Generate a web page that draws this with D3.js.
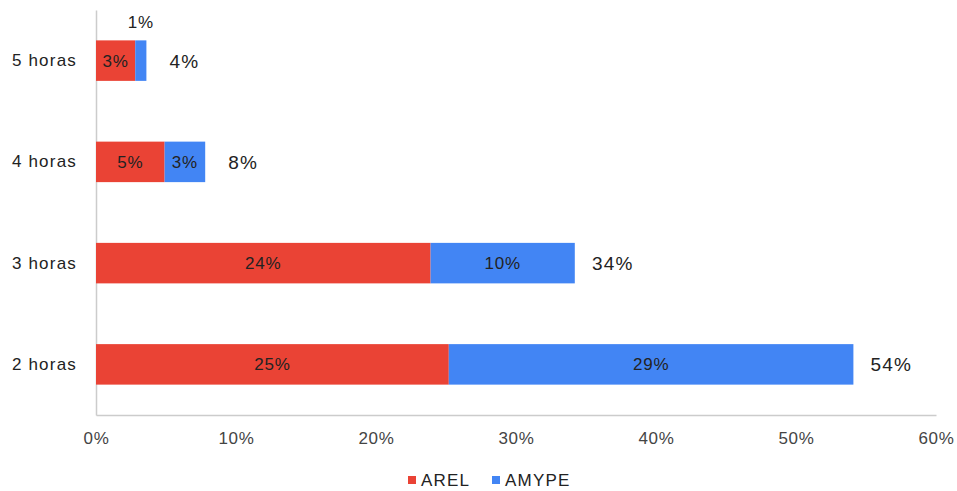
<!DOCTYPE html>
<html><head><meta charset="utf-8">
<script src="https://cdn.jsdelivr.net/npm/d3@7"></script>
<style>body{margin:0;background:#fff;font-family:"Liberation Sans",Arial,sans-serif;}</style>
</head><body><svg id="c" width="957" height="491"></svg>
<script>
const categories = ["5 horas", "4 horas", "3 horas", "2 horas"];
const arel = [2.8, 4.9, 23.9, 25.2];
const amype = [0.8, 2.9, 10.3, 28.9];
const arelLabels = ["3%", "5%", "24%", "25%"];
const amypeLabels = ["1%", "3%", "10%", "29%"];
const totalLabels = ["4%", "8%", "34%", "54%"];
const xTicks = [0, 10, 20, 30, 40, 50, 60];
const seriesNames = ["AREL", "AMYPE"];
const colors = ["#EA4335", "#4285F4"];

const svg = d3.select("#c");
const m = {l: 96, r: 21, t: 10, b: 76};
const W = 957, H = 491;
const ff = "Liberation Sans, Arial, sans-serif";
const x = d3.scaleLinear().domain([0, 60]).range([m.l, W - m.r]);
const y = d3.scaleBand().domain(categories).range([m.t, H - m.b]).paddingInner(0.6).paddingOuter(0.3);

// axes
const xAxis = svg.append("g").attr("transform", `translate(0,${H - m.b})`)
  .call(d3.axisBottom(x).tickValues(xTicks).tickFormat(d => d + "%").tickSize(0).tickPadding(17));
xAxis.select(".domain").attr("stroke", "#ccc").attr("stroke-width", 1.5);
xAxis.selectAll("text").attr("fill", "#444").attr("font-size", 17).attr("letter-spacing", 0.7).attr("font-family", ff);

const yAxis = svg.append("g").attr("transform", `translate(${m.l},0)`)
  .call(d3.axisLeft(y).tickSize(0).tickPadding(19));
yAxis.select(".domain").attr("stroke", "#ccc").attr("stroke-width", 1.5);
yAxis.selectAll("text").attr("fill", "#222").attr("font-size", 17).attr("letter-spacing", 1.2).attr("font-family", ff);

const rows = categories.map((c, i) => ({c, a: arel[i], b: amype[i], la: arelLabels[i], lb: amypeLabels[i], lt: totalLabels[i]}));

const g = svg.append("g");
g.selectAll(".ra").data(rows).join("rect")
  .attr("x", x(0)).attr("y", d => y(d.c)).attr("width", d => x(d.a) - x(0)).attr("height", y.bandwidth())
  .attr("fill", colors[0]);
g.selectAll(".rb").data(rows).join("rect")
  .attr("x", d => x(d.a)).attr("y", d => y(d.c)).attr("width", d => x(d.a + d.b) - x(d.a)).attr("height", y.bandwidth())
  .attr("fill", colors[1]);

g.selectAll(".ta").data(rows).join("text")
  .attr("x", d => (x(0) + x(d.a)) / 2).attr("y", d => y(d.c) + y.bandwidth() / 2 + 6)
  .attr("text-anchor", "middle").attr("font-size", 17).attr("letter-spacing", 0.8).attr("font-family", ff).attr("fill", "#222")
  .text(d => d.la);
g.selectAll(".tb").data(rows).join("text")
  .attr("x", d => (x(d.a) + x(d.a + d.b)) / 2)
  .attr("y", d => (x(d.a + d.b) - x(d.a) < 20) ? y(d.c) - 12 : y(d.c) + y.bandwidth() / 2 + 6)
  .attr("text-anchor", "middle").attr("font-size", 17).attr("letter-spacing", 0.8).attr("font-family", ff).attr("fill", "#222")
  .text(d => d.lb);
g.selectAll(".tt").data(rows).join("text")
  .attr("x", d => x(d.a + d.b) + 38).attr("y", d => y(d.c) + y.bandwidth() / 2 + 7)
  .attr("text-anchor", "middle").attr("font-size", 19).attr("letter-spacing", 1.2).attr("font-family", ff).attr("fill", "#222")
  .text(d => d.lt);

// legend
const leg = svg.append("g").attr("transform", "translate(408,480)");
const legX = [0, 84];
seriesNames.forEach((n, i) => {
  leg.append("rect").attr("x", legX[i]).attr("y", -4).attr("width", 8).attr("height", 8).attr("fill", colors[i]);
  leg.append("text").attr("x", legX[i] + 13).attr("y", 6).attr("font-size", 17).attr("letter-spacing", 1.2).attr("font-family", ff).attr("fill", "#222").text(n);
});
</script></body></html>
